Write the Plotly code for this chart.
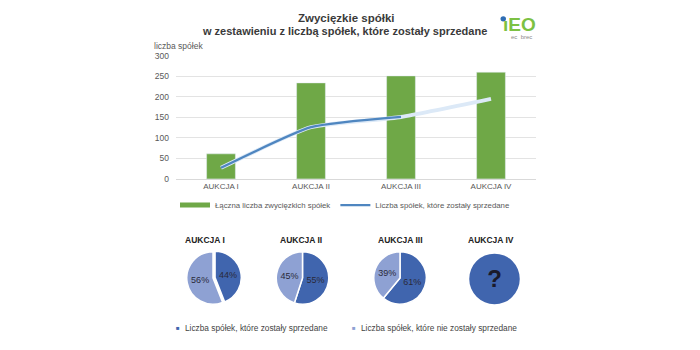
import plotly.graph_objects as go

categories = ["AUKCJA I", "AUKCJA II", "AUKCJA III", "AUKCJA IV"]
winners = [61, 234, 251, 260]
sold = [27, 126, 151]
trend = [27, 126, 151, 195]
sold_pct = [44, 55, 61]
unsold_pct = [56, 45, 39]
y_ticks = [0, 50, 100, 150, 200, 250, 300]

name_bar = "Łączna liczba zwycięzkich spółek"
name_line = "Liczba spółek, które zostały sprzedane"
lbl_sold = "Liczba spółek, które zostały sprzedane"
lbl_unsold = "Liczba spółek, które nie zostały sprzedane"

W, H = 700, 350
def px(x):
    return x / W
def py(y):
    return 1 - y / H

GREEN = "#6FA847"
LINE = "#4F86C0"
GLOW = "#DCE9F7"
DARK = "#4065AE"
LIGHT = "#8EA1D3"
FONT = "Liberation Sans, Arial, sans-serif"
NARROW = "Liberation Sans Narrow, Arial Narrow, Liberation Sans, sans-serif"

fig = go.Figure()

fig.add_trace(go.Bar(
    x=categories, y=winners, name=name_bar, marker_color=GREEN,
    width=0.32, xaxis="x", yaxis="y", showlegend=False,
))
# legend entry for bars drawn as a wide green stroke
fig.add_trace(go.Scatter(
    x=[None], y=[None], mode="lines", name=name_bar,
    line=dict(color=GREEN, width=5), legend="legend",
))
fig.add_trace(go.Scatter(
    x=categories, y=trend, mode="lines", line=dict(color=GLOW, width=4, shape="spline", smoothing=0.5),
    showlegend=False, hoverinfo="skip", xaxis="x", yaxis="y",
))
fig.add_trace(go.Scatter(
    x=categories[:3], y=sold, mode="lines", name=name_line,
    line=dict(color=LINE, width=2.3, shape="spline", smoothing=0.5), xaxis="x", yaxis="y", legend="legend",
))

pie_centers = [(213, 281), (302.5, 281), (400, 281)]
r = 27
for i, (cx, cy) in enumerate(pie_centers):
    pull = [0.08, 0] if i == 0 else [0, 0]
    rr = r * (1.08 if i == 0 else 1.0)
    fig.add_trace(go.Pie(
        labels=[lbl_sold, lbl_unsold], values=[sold_pct[i], unsold_pct[i]],
        sort=False, direction="clockwise", rotation=0, pull=pull,
        marker=dict(colors=[DARK, LIGHT], line=dict(color="white", width=1.5)),
        texttemplate="%{value}%", textposition="inside",
        insidetextfont=dict(size=9, color="#2A2A3A", family=FONT),
        insidetextorientation="horizontal",
        domain=dict(x=[px(cx - rr), px(cx + rr)], y=[py(cy + rr), py(cy - rr)]),
        showlegend=False, hoverinfo="label+percent",
    ))

cx, cy = 494.5, 282
fig.add_trace(go.Pie(
    labels=[lbl_sold], values=[1], sort=False,
    marker=dict(colors=[DARK]), text=["?"], textposition="inside",
    insidetextfont=dict(size=24, color="#1A1A2A", family=FONT),
    texttemplate="<b>?</b>",
    domain=dict(x=[px(cx - 26), px(cx + 26)], y=[py(cy + 26), py(cy - 26)]),
    showlegend=False,
))

annotations = [
    dict(text="<b>Zwycięzkie spółki</b>", x=px(346), y=py(13), xref="paper", yref="paper",
         showarrow=False, font=dict(size=11.5, color="#3A3A3A", family=FONT), xanchor="center", yanchor="middle"),
    dict(text="<b>w zestawieniu z liczbą spółek, które zostały sprzedane</b>", x=px(344), y=py(27),
         xref="paper", yref="paper", showarrow=False,
         font=dict(size=11, color="#3A3A3A", family=FONT), xanchor="center", yanchor="middle"),
    dict(text="liczba spółek", x=px(152), y=py(42), xref="paper", yref="paper", showarrow=False,
         font=dict(size=8.5, color="#595959", family=FONT), xanchor="left", yanchor="middle"),
    dict(text="<b>ıEO</b>", x=px(501), y=py(20), xref="paper", yref="paper", showarrow=False,
         font=dict(size=19, color="#7CC143", family=FONT),
         xanchor="left", yanchor="middle"),
    dict(text="ec  brec", x=px(521), y=py(33), xref="paper", yref="paper", showarrow=False,
         font=dict(size=6, color="#8A8A8A", family=FONT), xanchor="center", yanchor="middle"),
]
titles_x = [205, 301, 400, 491]
for t, tx in zip(categories, titles_x):
    annotations.append(dict(text="<b>" + t + "</b>", x=px(tx), y=py(242), xref="paper", yref="paper",
                            showarrow=False, font=dict(size=8.5, color="#222222", family=NARROW),
                            xanchor="center", yanchor="middle"))

# bottom legend for pie charts
for sq_x, color, label in [(178, DARK, lbl_sold), (354, LIGHT, lbl_unsold)]:
    annotations.append(dict(text="■", x=px(sq_x), y=py(333), xref="paper", yref="paper", showarrow=False,
                            font=dict(size=6, color=color, family=FONT), xanchor="center", yanchor="middle"))
    annotations.append(dict(text=label, x=px(sq_x + 5), y=py(333), xref="paper", yref="paper", showarrow=False,
                            font=dict(size=8.3, color="#444444", family=FONT), xanchor="left", yanchor="middle"))

shapes = [
    dict(type="circle", xref="paper", yref="paper", x0=px(500.5), x1=px(506), y0=py(17), y1=py(11.5),
         fillcolor="#2E6DB4", line=dict(width=0)),
]

fig.update_layout(
    width=W, height=H, margin=dict(l=0, r=0, t=0, b=0),
    paper_bgcolor="white", plot_bgcolor="white",
    font=dict(family=FONT, color="#595959", size=9),
    xaxis=dict(domain=[px(176), px(536)], range=[-0.5, 3.5], type="category",
               tickfont=dict(size=8, color="#595959"), showgrid=False, showline=True,
               linecolor="#D9D9D9", linewidth=1, ticks="", fixedrange=True),
    yaxis=dict(domain=[py(179), py(52.3)], range=[0, 300], tickvals=y_ticks,
               tickfont=dict(size=8.5, color="#595959"), gridcolor="#E3E3E3", gridwidth=1,
               zeroline=False, showline=False, ticks="", ticklabelstandoff=6, fixedrange=True),
    legend=dict(orientation="h", x=px(345), xanchor="center", y=py(206), yanchor="middle",
                font=dict(size=7.8, color="#595959", family=FONT), itemwidth=30,
                bgcolor="rgba(0,0,0,0)"),
    annotations=annotations, shapes=shapes,
)

fig.write_html("out.html")
